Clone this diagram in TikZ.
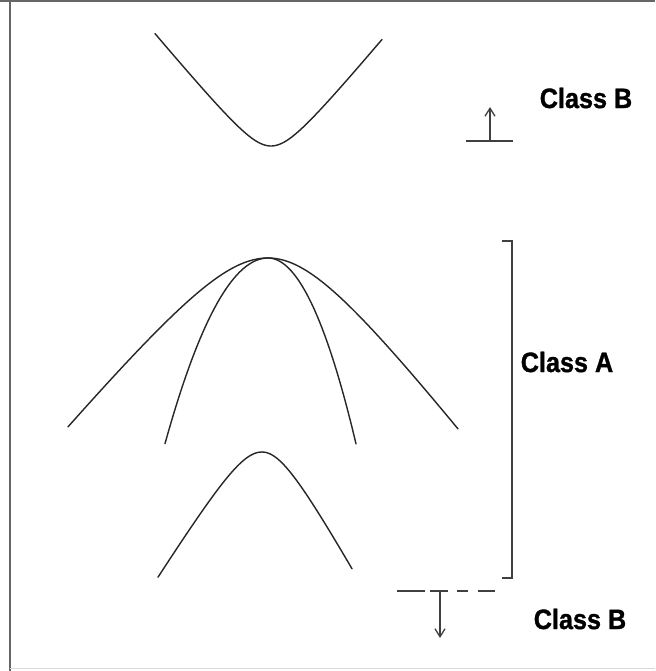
\documentclass[tikz,border=0pt]{standalone}
\usepackage{fontspec}
\setmainfont{Liberation Sans}
\newfontfamily\lblfont[FakeBold=1.2]{Liberation Sans Bold}
\usetikzlibrary{arrows.meta}
\begin{document}
\begin{tikzpicture}[x=1pt,y=-1pt,
  band/.style={draw=black!85,line width=1.4pt,line cap=round},
  thin/.style={draw=black!75,line width=1.5pt},
  frameline/.style={draw=black!60,line width=2pt},
  lbl/.style={font=\fontsize{28}{32}\lblfont,xscale=0.9,inner sep=0pt},
  tip/.style={-{Straight Barb[length=8pt,width=10pt,line width=1.3pt]}}]
\useasboundingbox (0,0) rectangle (655,671);
\fill[white] (0,0) rectangle (655,671);
% frame
\draw[frameline] (0,1) -- (655,1);
\draw[frameline] (10,0) -- (10,671);
\draw[draw=black!15,line width=1pt] (10,668) -- (655,668);
% top band (Class B)
\draw[band] plot[domain=-116:111,samples=100] ({271+\x},{146-12*(sqrt(6.25+(\x/10)^2)-2.5)});
% wide band
\draw[band] plot[domain=-200:0,samples=80] ({268+\x},{258+11.9*(sqrt(49+(\x/10)^2)-7)});
\draw[band] plot[domain=0:190,samples=80] ({268+\x},{258+12.9*(sqrt(49+(\x/10)^2)-7)});
% narrow band
\draw[band] plot[domain=-103:0,samples=60] ({268+\x},{258+0.0175*\x*\x});
\draw[band] plot[domain=0:88,samples=60] ({268+\x},{258+0.0240*\x*\x});
% split-off band
\draw[band] plot[domain=-104:0,samples=60] ({262+\x},{452+16*(sqrt(9+(\x/10)^2)-3)});
\draw[band] plot[domain=0:90,samples=60] ({262+\x},{452+18*(sqrt(9+(\x/10)^2)-3)});
% bracket
\coordinate (bt) at (502,241);
\coordinate (bb) at (502,578);
\draw[thin] (bt) -- (512,241) -- (512,578) -- (bb);
% top marker
\coordinate (tl) at (466,141);
\coordinate (tr) at (513,141);
\coordinate (ta) at (490,141);
\coordinate (tb) at (490,107);
\draw[thin] (tl) -- (tr);
\draw[thin,tip] (ta) -- (tb);
% bottom marker
\coordinate (dl) at (397,591);
\coordinate (dr) at (495,591);
\coordinate (da) at (440,591);
\coordinate (db) at (440,638);
\draw[thin,dash pattern={on 28pt off 5pt on 18pt off 9pt on 11pt off 10pt on 17pt off 100pt}] (dl) -- (dr);
\draw[thin,tip] (da) -- (db);
% labels
\node[lbl] (cbt) at (586,98) {Class B};
\node[lbl] (ca) at (567,362) {Class A};
\node[lbl] (cbb) at (580,619) {Class B};
\end{tikzpicture}
\end{document}
